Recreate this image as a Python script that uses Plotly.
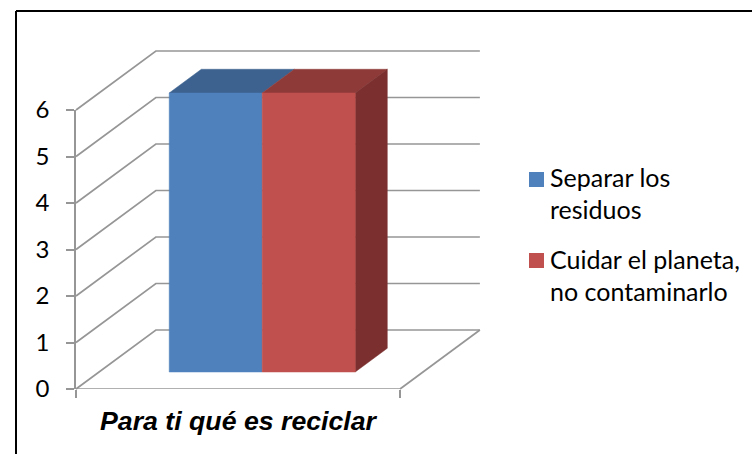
import plotly.graph_objects as go

# Data
category = "Para ti qué es reciclar"
series_names = ["Separar los<br>residuos", "Cuidar el planeta,<br>no contaminarlo"]
series_values = [6, 6]
y_ticks = [0, 1, 2, 3, 4, 5, 6]
front_colors = ["#4F81BD", "#C0504D"]
top_colors = ["#3D628F", "#8E3A38"]
side_color = "#7B2F2E"
grid_color = "#969696"

# Oblique projection constants (data units per unit of depth)
SHEAR_X = 0.2465
SHEAR_Y = 1.269
BAR_W = 0.287
BAR_X0 = 0.2167
Z0, Z1 = 0.288, 0.69


def px(x, z):
    return x + SHEAR_X * z


def py(v, z):
    return v + SHEAR_Y * z


W, H = 752, 454
x_left, x_unit = 76, 324
y_zero, y_unit = 389, 46.5
swatch_tops = [172, 253]
swatch_left, swatch_size = 529, 15

fig = go.Figure()


def poly(points, color, **kw):
    fig.add_trace(go.Scatter(
        x=[px(a, c) for a, b, c in points] + [px(*points[0][::2])],
        y=[py(b, c) for a, b, c in points] + [py(*points[0][1:])],
        mode="lines", fill="toself", fillcolor=color,
        line=dict(color=color, width=0.5), hoverinfo="skip", showlegend=False, **kw))


def wire(points):
    fig.add_trace(go.Scatter(
        x=[px(a, c) for a, b, c in points],
        y=[py(b, c) for a, b, c in points],
        mode="lines", line=dict(color=grid_color, width=1.7),
        hoverinfo="skip", showlegend=False))


# Walls and floor
for t in y_ticks:
    wire([(0, t, 0), (0, t, 1), (1, t, 1)])
wire([(1, 0, 1), (1, 0, 0)])

# Bars
for i, v in enumerate(series_values):
    a, b = BAR_X0 + i * BAR_W, BAR_X0 + (i + 1) * BAR_W
    poly([(a, v, Z0), (b, v, Z0), (b, v, Z1), (a, v, Z1)], top_colors[i])
last_b = BAR_X0 + len(series_values) * BAR_W
poly([(last_b, 0, Z0), (last_b, series_values[-1], Z0),
      (last_b, series_values[-1], Z1), (last_b, 0, Z1)], side_color)
for i, v in enumerate(series_values):
    a, b = BAR_X0 + i * BAR_W, BAR_X0 + (i + 1) * BAR_W
    poly([(a, 0, Z0), (b, 0, Z0), (b, v, Z0), (a, v, Z0)], front_colors[i])

# Legend entries: plotly centres the key on a wrapped entry, the reference aligns it with
# the first line, so the key is drawn as a square beside the native legend text.
for i, name in enumerate(series_names):
    fig.add_trace(go.Scatter(
        x=[None], y=[None], mode="markers", name=name, legendgroup=f"g{i}",
        marker=dict(symbol="square", size=15, color="rgba(0,0,0,0)")))

# Front axes trace
fig.add_trace(go.Scatter(x=[0, 1], y=[0, 0], xaxis="x2", yaxis="y2", mode="lines",
                         line=dict(color=grid_color, width=1.7),
                         hoverinfo="skip", showlegend=False, cliponaxis=False))

frame = [
    dict(type="line", xref="paper", yref="paper", x0=16 / W, x1=16 / W, y0=0, y1=(H - 11) / H,
         line=dict(color="black", width=2)),
    dict(type="line", xref="paper", yref="paper", x0=16 / W, x1=1, y0=(H - 11) / H, y1=(H - 11) / H,
         line=dict(color="black", width=2)),
]
keys = [
    dict(type="rect", xref="paper", yref="paper", x0=swatch_left / W, x1=(swatch_left + swatch_size) / W,
         y0=(H - top - swatch_size) / H, y1=(H - top) / H, fillcolor=c, line=dict(width=0))
    for top, c in zip(swatch_tops, front_colors)
]

fig.update_layout(
    width=W, height=H, margin=dict(l=0, r=0, t=0, b=0, autoexpand=False),
    paper_bgcolor="white", plot_bgcolor="rgba(0,0,0,0)",
    showlegend=True,
    xaxis=dict(visible=False, domain=[0, 1],
               range=[-x_left / x_unit, (W - x_left) / x_unit], fixedrange=True),
    yaxis=dict(visible=False, domain=[0, 1],
               range=[(y_zero - H) / y_unit, y_zero / y_unit], fixedrange=True),
    xaxis2=dict(domain=[x_left / W, (x_left + x_unit) / W], range=[0, 1], anchor="y2",
                tickvals=[0, 1], ticktext=["", ""], ticks="outside", ticklen=8, tickwidth=1.7,
                tickcolor=grid_color, showgrid=False, zeroline=False, showline=False,
                title=dict(text=category, standoff=11,
                           font=dict(family="Liberation Sans", size=26.7, color="black",
                                     weight="bold", style="italic"))),
    yaxis2=dict(domain=[(H - y_zero) / H, (H - y_zero + 6 * y_unit) / H], range=[0, 6], anchor="x2",
                tickvals=y_ticks, ticks="outside", ticklen=8, tickwidth=1.7, tickcolor=grid_color,
                showline=True, linecolor=grid_color, linewidth=1.7, showgrid=False, zeroline=False,
                ticklabelstandoff=12, tickfont=dict(family="Lato", size=24, color="black")),
    legend=dict(x=510 / W, y=(H - 154) / H, xanchor="left", yanchor="top",
                bgcolor="rgba(0,0,0,0)", font=dict(family="Lato", size=25, color="black"),
                tracegroupgap=14, itemclick=False, itemdoubleclick=False),
    shapes=frame + keys,
)
fig.write_html("out.html", config=dict(displayModeBar=False),
               post_script="document.body.style.margin='0';document.body.style.overflow='hidden';")
